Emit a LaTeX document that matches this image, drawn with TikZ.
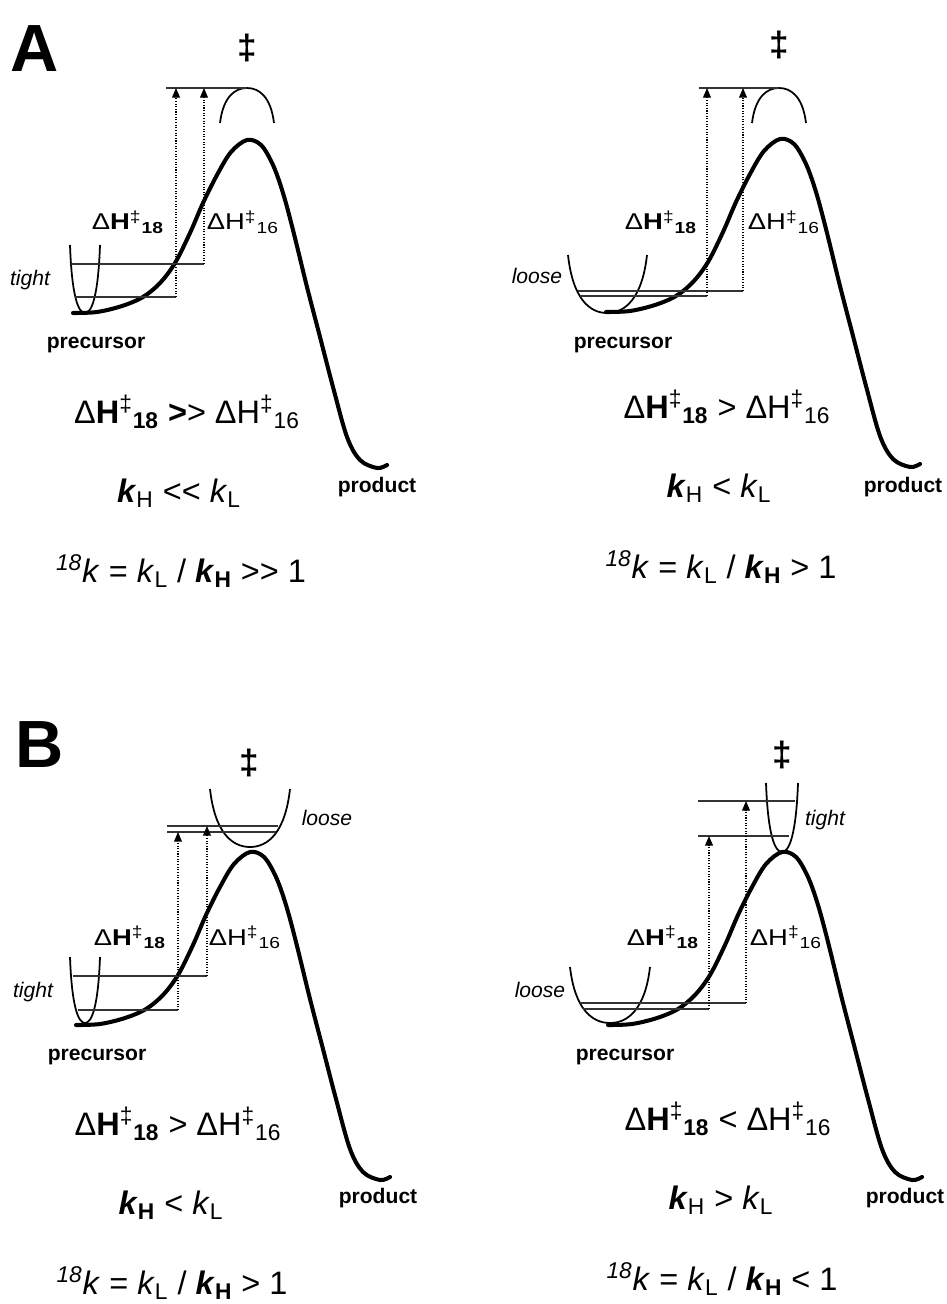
\documentclass[tikz,border=0pt]{standalone}
\usepackage{fontspec}
\setmainfont{Liberation Sans}
\usepackage{graphicx}
\usepackage{tikz}
\usetikzlibrary{arrows.meta}

\newcommand{\dHb}[1]{Δ\textbf{H}\textsuperscript{‡}\textsubscript{\textbf{#1}}}
\newcommand{\dHr}[1]{ΔH\textsuperscript{‡}\textsubscript{#1}}
\newcommand{\kH}{\textbf{\textit{k}}\textsubscript{H}}
\newcommand{\kHb}{\textbf{\textit{k}}\textsubscript{\textbf{H}}}
\newcommand{\kL}{\textit{k}\textsubscript{L}}
\newcommand{\kiso}{\textsuperscript{\textit{18}}\textit{k}}
\newcommand{\wide}[1]{\scalebox{1.2}[1]{#1}}

\tikzset{
  profile/.style={line width=2.3pt,line cap=round,line join=round},
  well/.style={line width=1pt},
  vlevel/.style={line width=0.6pt,black!80},
  gaparrow/.style={line width=0.6pt,dash pattern=on 0.6pt off 0.9pt,
    -{Triangle[width=4.5pt,length=5.5pt]}},
  panel/.style={font=\fontsize{38}{40}\selectfont\bfseries,anchor=base west,inner sep=0pt},
  ts/.style={font=\fontsize{20}{22}\selectfont\bfseries,inner sep=0pt},
  species/.style={font=\fontsize{12}{14}\selectfont\bfseries,anchor=base,inner sep=0pt},
  vib/.style={font=\fontsize{12}{14}\selectfont\itshape,anchor=base,inner sep=0pt},
  dlbl/.style={font=\fontsize{13}{15}\selectfont,anchor=base,inner sep=0pt},
  eqn/.style={font=\fontsize{18.5}{21}\selectfont,anchor=base,inner sep=0pt},
  pics/barrier/.style={code={
    \draw[profile] plot[smooth,tension=0.55] coordinates {(-174,173) (-150,172) (-125,166)
      (-104,157) (-87,143) (-72,123) (-57,93) (-44,63) (-30,35) (-16,12) (0,0) (14,5)
      (26,25) (36,53) (46,90) (60,147) (73,197) (86,247) (100,297) (113,320) (130,328)
      (140,325)};
  }}
}

\begin{document}
\begin{tikzpicture}[x=0.02cm,y=-0.02cm]
\useasboundingbox (0,0) rectangle (946,1304);

% A, left
\node[panel] (pa) at (10,72) {A};
\pic (bal) at (247,140) {barrier};
\draw[well] (70,245) .. controls (71.8,296) and (78.2,313) .. (85,313)
  .. controls (91.8,313) and (98.2,296) .. (100,245);
\draw[well] (220,123) .. controls (223.2,96.8) and (234.8,88) .. (247,88)
  .. controls (259.2,88) and (270.8,96.8) .. (274,123);
\coordinate (al-w16) at (71,264); \coordinate (al-b16) at (204,264);
\coordinate (al-w18) at (75,297); \coordinate (al-b18) at (176,297);
\coordinate (al-top) at (166,88); \coordinate (al-ts) at (247,88);
\coordinate (al-t18) at (176,88); \coordinate (al-t16) at (204,88);
\draw[vlevel] (al-w16) -- (al-b16);
\draw[vlevel] (al-w18) -- (al-b18);
\draw[vlevel] (al-top) -- (al-ts);
\draw[gaparrow] (al-b18) -- (al-t18);
\draw[gaparrow] (al-b16) -- (al-t16);
\node[ts] (al-dag) at (247,48) {‡};
\node[dlbl] (al-h18) at (128,230) {\wide{\dHb{18}}};
\node[dlbl] (al-h16) at (243,230) {\wide{\dHr{16}}};
\node[vib] (al-tight) at (30,285) {tight};
\node[species] (al-pre) at (96,348) {precursor};
\node[species] (al-pro) at (377,492) {product};
\node[eqn] (al-e1) at (187,423) {\dHb{18} \textbf{>}> \dHr{16}};
\node[eqn] (al-e2) at (179,502) {\kH{} <\kern0pt< \kL};
\node[eqn] (al-e3) at (181,582) {\kiso{} = \kL{} / \kHb{} >\kern0pt> 1};

% A, right
\pic (bar) at (780,139) {barrier};
\draw[well] (568,255) .. controls (572.7,298.5) and (589.5,313) .. (607,313)
  .. controls (625,313) and (642.2,298.5) .. (647,255);
\draw[well] (752,123) .. controls (755.2,96.8) and (766.8,88) .. (779,88)
  .. controls (791.2,88) and (802.8,96.8) .. (806,123);
\coordinate (ar-w16) at (578,291); \coordinate (ar-b16) at (743,291);
\coordinate (ar-w18) at (580,296); \coordinate (ar-b18) at (707,296);
\coordinate (ar-top) at (699,88); \coordinate (ar-ts) at (779,88);
\coordinate (ar-t18) at (707,88); \coordinate (ar-t16) at (743,88);
\draw[vlevel] (ar-w16) -- (ar-b16);
\draw[vlevel] (ar-w18) -- (ar-b18);
\draw[vlevel] (ar-top) -- (ar-ts);
\draw[gaparrow] (ar-b18) -- (ar-t18);
\draw[gaparrow] (ar-b16) -- (ar-t16);
\node[ts] (ar-dag) at (779,45) {‡};
\node[dlbl] (ar-h18) at (661,230) {\wide{\dHb{18}}};
\node[dlbl] (ar-h16) at (784,230) {\wide{\dHr{16}}};
\node[vib] (ar-loose) at (537,283) {loose};
\node[species] (ar-pre) at (623,348) {precursor};
\node[species] (ar-pro) at (903,492) {product};
\node[eqn] (ar-e1) at (727,418) {\dHb{18} > \dHr{16}};
\node[eqn] (ar-e2) at (719,497) {\kH{} < \kL};
\node[eqn] (ar-e3) at (721,578) {\kiso{} = \kL{} / \kHb{} > 1};

% B, left
\node[panel] (pb) at (15,767) {B};
\pic (bbl) at (250,852) {barrier};
\draw[well] (70,957) .. controls (71.8,1006.5) and (78.2,1023) .. (85,1023)
  .. controls (91.8,1023) and (98.2,1006.5) .. (100,957);
\draw[well] (210,789) .. controls (214.8,832.5) and (232,847) .. (250,847)
  .. controls (268,847) and (285.2,832.5) .. (290,789);
\coordinate (bl-w16) at (73,976); \coordinate (bl-b16) at (207,976);
\coordinate (bl-w18) at (78,1010); \coordinate (bl-b18) at (178,1010);
\coordinate (bl-l16) at (167,826); \coordinate (bl-ts16) at (278,826);
\coordinate (bl-l18) at (167,832); \coordinate (bl-ts18) at (276,832);
\coordinate (bl-t18) at (178,832); \coordinate (bl-t16) at (207,826);
\draw[vlevel] (bl-w16) -- (bl-b16);
\draw[vlevel] (bl-w18) -- (bl-b18);
\draw[vlevel] (bl-l16) -- (bl-ts16);
\draw[vlevel] (bl-l18) -- (bl-ts18);
\draw[gaparrow] (bl-b18) -- (bl-t18);
\draw[gaparrow] (bl-b16) -- (bl-t16);
\node[ts] (bl-dag) at (249,763) {‡};
\node[dlbl] (bl-h18) at (130,945) {\wide{\dHb{18}}};
\node[dlbl] (bl-h16) at (245,945) {\wide{\dHr{16}}};
\node[vib] (bl-tight) at (33,997) {tight};
\node[vib] (bl-loose) at (327,825) {loose};
\node[species] (bl-pre) at (97,1060) {precursor};
\node[species] (bl-pro) at (378,1203) {product};
\node[eqn] (bl-e1) at (178,1135) {\dHb{18} > \dHr{16}};
\node[eqn] (bl-e2) at (171,1214) {\kHb{} < \kL};
\node[eqn] (bl-e3) at (172,1294) {\kiso{} = \kL{} / \kHb{} > 1};

% B, right
\pic (bbr) at (782,852) {barrier};
\draw[well] (570,967) .. controls (574.8,1009) and (592,1023) .. (610,1023)
  .. controls (628,1023) and (645.2,1009) .. (650,967);
\draw[well] (766,783) .. controls (767.9,834.8) and (774.8,852) .. (782,852)
  .. controls (789.2,852) and (796.1,834.8) .. (798,783);
\coordinate (br-w16) at (580,1003); \coordinate (br-b16) at (746,1003);
\coordinate (br-w18) at (583,1009); \coordinate (br-b18) at (709,1009);
\coordinate (br-l16) at (698,801); \coordinate (br-ts16) at (795,801);
\coordinate (br-l18) at (698,836); \coordinate (br-ts18) at (789,836);
\coordinate (br-t18) at (709,836); \coordinate (br-t16) at (746,801);
\draw[vlevel] (br-w16) -- (br-b16);
\draw[vlevel] (br-w18) -- (br-b18);
\draw[vlevel] (br-l16) -- (br-ts16);
\draw[vlevel] (br-l18) -- (br-ts18);
\draw[gaparrow] (br-b18) -- (br-t18);
\draw[gaparrow] (br-b16) -- (br-t16);
\node[ts] (br-dag) at (782,755) {‡};
\node[dlbl] (br-h18) at (663,945) {\wide{\dHb{18}}};
\node[dlbl] (br-h16) at (786,945) {\wide{\dHr{16}}};
\node[vib] (br-loose) at (540,997) {loose};
\node[vib] (br-tight) at (825,825) {tight};
\node[species] (br-pre) at (625,1060) {precursor};
\node[species] (br-pro) at (905,1203) {product};
\node[eqn] (br-e1) at (728,1130) {\dHb{18} < \dHr{16}};
\node[eqn] (br-e2) at (721,1209) {\kH{} > \kL};
\node[eqn] (br-e3) at (722,1290) {\kiso{} = \kL{} / \kHb{} < 1};
\end{tikzpicture}
\end{document}
